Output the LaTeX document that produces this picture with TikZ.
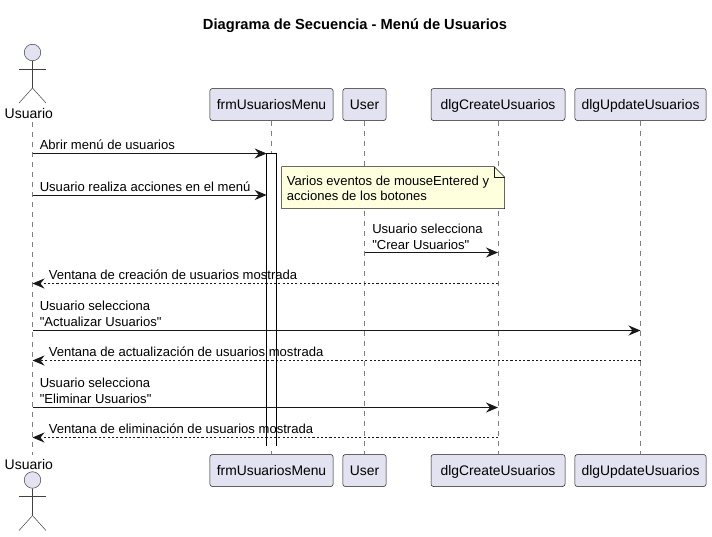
\documentclass[tikz,border=0pt]{standalone}
\usepackage{fontspec}
\setmainfont[Ligatures=TeXOff]{Liberation Sans}
\usetikzlibrary{calc,arrows.meta}
\definecolor{partfill}{HTML}{E2E2F0}
\definecolor{partline}{HTML}{181818}
\definecolor{actorcol}{HTML}{404040}
\definecolor{lifeline}{HTML}{7F7F7F}
\definecolor{notefill}{HTML}{FEFFDD}
\definecolor{arrowcol}{HTML}{181818}
\tikzset{
  x=0.75pt,y=-0.75pt,
  part/.style={draw=partline,fill=partfill,rounded corners=1.9pt,line width=0.38pt,minimum height=24pt,inner sep=0pt,text height=9pt,text depth=0.8pt,font=\fontsize{10.4pt}{12pt}\selectfont,text=black},
  life/.style={draw=lifeline,line width=0.38pt,dash pattern=on 3.75pt off 3.75pt},
  msgtxt/.style={anchor=south west,inner sep=0pt,align=left,font=\fontsize{9.8pt}{11.8pt}\selectfont,text=black},
  fwd/.style={draw=arrowcol,line width=0.75pt,-{Stealth[length=9pt,width=7.5pt,inset=3pt]}},
  ret/.style={draw=arrowcol,line width=0.6pt,dash pattern=on 1.6pt off 1.6pt,-{Stealth[length=9pt,width=7.5pt,inset=3pt]}},
  actorline/.style={draw=actorcol,line width=0.38pt},
  actorhead/.style={draw=actorcol,fill=partfill,circle,line width=0.38pt,minimum size=12.4pt,inner sep=0pt},
}
\newcommand{\stick}[2]{%
  \node[actorhead] (#2h) at (32.5,#1) {};
  \draw[actorline] (#2h.south) -- ++(0,27) coordinate (#2b) -- ++(-13.5,15) coordinate (#2l);
  \draw[actorline] (#2b) -- ++(13.5,15) coordinate (#2r);
  \coordinate (#2al) at ($(#2h.south)+(-13.5,8)$);
  \coordinate (#2ar) at ($(#2h.south)+(13.5,8)$);
  \draw[actorline] (#2al) -- (#2ar);
}
\begin{document}
\begin{tikzpicture}
\useasboundingbox (0,0) rectangle (712,536);
\fill[white] (0,0) rectangle (712,536);
\node[font=\fontsize{11pt}{13pt}\selectfont\bfseries] (title) at (355,26) {Diagrama de Secuencia - Menú de Usuarios};

% participants
\node[part,minimum width=92.5pt] (t2) at (271.5,104.5) {frmUsuariosMenu};
\node[part,minimum width=32.5pt] (t3) at (364.5,104.5) {User};
\node[part,minimum width=100.5pt] (t4) at (498,104.5) {dlgCreateUsuarios};
\node[part,minimum width=98.5pt] (t5) at (640.5,104.5) {dlgUpdateUsuarios};
\node[part,minimum width=92.5pt] (b2) at (271.5,470.5) {frmUsuariosMenu};
\node[part,minimum width=32.5pt] (b3) at (364.5,470.5) {User};
\node[part,minimum width=100.5pt] (b4) at (498,470.5) {dlgCreateUsuarios};
\node[part,minimum width=98.5pt] (b5) at (640.5,470.5) {dlgUpdateUsuarios};

% actors
\stick{52.5}{ta}
\stick{480}{ba}
\node[inner sep=0pt,font=\fontsize{10.5pt}{12pt}\selectfont] (t1) at (28.8,113) {Usuario};
\node[inner sep=0pt,font=\fontsize{10.5pt}{12pt}\selectfont] (b1) at (28.8,464) {Usuario};

% lifelines
\coordinate (l1a) at (32.5,122); \coordinate (l1b) at (32.5,455);
\draw[life] (l1a) -- (l1b);
\draw[life] (t2.south) -- (b2.north);
\draw[life] (t3.south) -- (b3.north);
\draw[life] (t4.south) -- (b4.north);
\draw[life] (t5.south) -- (b5.north);

% activation: no closing edge at the bottom
\coordinate (a1) at (266.7,446);
\coordinate (a2) at (266.7,153.3);
\coordinate (a3) at (276.7,153.3);
\coordinate (a4) at (276.7,446);
\fill[white] (a1) -- (a2) -- (a3) -- (a4) -- cycle;
\draw[draw=black,line width=0.75pt] (a1) -- (a2) -- (a3) -- (a4);

% note
\coordinate (n1) at (281.5,166.5);
\coordinate (n2) at (494,166.5);
\coordinate (n3) at (504.5,177);
\coordinate (n4) at (504.5,208.5);
\coordinate (n5) at (281.5,208.5);
\draw[draw=partline,fill=notefill,line width=0.38pt] (n1) -- (n2) -- (n3) -- (n4) -- (n5) -- cycle;
\draw[draw=partline,line width=0.38pt] (n2) -- (494,177) -- (n3);
\node[msgtxt,anchor=north west] (notetxt) at (286.5,175.5) {Varios eventos de mouseEntered y\\acciones de los botones};

% messages
\coordinate (m1) at (32.5,153.5);
\draw[fwd] (m1) -- (a2 |- m1);
\node[msgtxt] (mt1) at (39.5,150) {Abrir menú de usuarios};
\coordinate (m2) at (32.5,195);
\draw[fwd] (m2) -- (a2 |- m2);
\node[msgtxt] (mt2) at (39.5,191.5) {Usuario realiza acciones en el menú};
\coordinate (m3a) at (364.5,252.5); \coordinate (m3b) at (498,252.5);
\draw[fwd] (m3a) -- (m3b);
\node[msgtxt] (mt3) at (372,249.5) {Usuario selecciona\\"Crear Usuarios"};
\coordinate (m4a) at (498,283.5); \coordinate (m4b) at (32.5,283.5);
\draw[ret] (m4a) -- (m4b);
\node[msgtxt] (mt4) at (48.5,280) {Ventana de creación de usuarios mostrada};
\coordinate (m5a) at (32.5,330.5); \coordinate (m5b) at (640.5,330.5);
\draw[fwd] (m5a) -- (m5b);
\node[msgtxt] (mt5) at (39.5,326.5) {Usuario selecciona\\"Actualizar Usuarios"};
\coordinate (m6a) at (640.5,360.5); \coordinate (m6b) at (32.5,360.5);
\draw[ret] (m6a) -- (m6b);
\node[msgtxt] (mt6) at (48.5,357) {Ventana de actualización de usuarios mostrada};
\coordinate (m7a) at (32.5,407.5); \coordinate (m7b) at (498,407.5);
\draw[fwd] (m7a) -- (m7b);
\node[msgtxt] (mt7) at (39.5,404) {Usuario selecciona\\"Eliminar Usuarios"};
\coordinate (m8a) at (498,437.5); \coordinate (m8b) at (32.5,437.5);
\draw[ret] (m8a) -- (m8b);
\node[msgtxt] (mt8) at (48.5,434) {Ventana de eliminación de usuarios mostrada};
\end{tikzpicture}
\end{document}
